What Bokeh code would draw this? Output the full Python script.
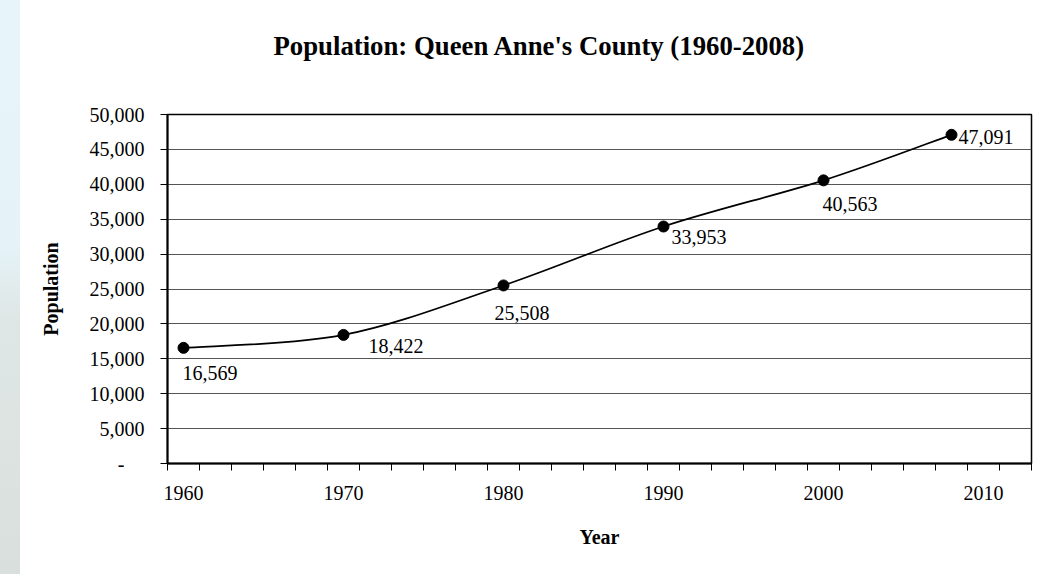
from bokeh.plotting import figure
from bokeh.models import FixedTicker, NumeralTickFormatter, Range1d, ColumnDataSource, Div, Title
from bokeh.layouts import row
from bokeh.core.properties import value
from bokeh.embed import file_html
from bokeh.resources import INLINE

# ---- data ----
years = [1960, 1970, 1980, 1990, 2000, 2008]
population = [16569, 18422, 25508, 33953, 40563, 47091]
point_labels = ["16,569", "18,422", "25,508", "33,953", "40,563", "47,091"]
x_tick_labels = [1960, 1970, 1980, 1990, 2000, 2010]
y_ticks = [0, 5000, 10000, 15000, 20000, 25000, 30000, 35000, 40000, 45000, 50000]

# ---- label placement (style, screen px) ----
label_dx = [-1, 25, -9, 8, -1, 7]
label_dy = [25, 11, 28, 10, 24, 2]

FONT = "Liberation Serif"

p = figure(width=1036, height=574, output_backend="svg", toolbar_location=None,
           x_range=Range1d(1959, 2013), y_range=Range1d(0, 50000),
           min_border_left=147, min_border_right=25, min_border_top=114,
           min_border_bottom=111, background_fill_color="white",
           border_fill_color="white")

# title (outermost) with a blank spacer between it and the frame
p.title.text = "Population: Queen Anne's County (1960-2008)"
p.title.align = "left"
p.title.offset = 106
p.title.vertical_align = "bottom"
p.title.standoff = 10
p.title.text_font = FONT
p.title.text_font_size = "26.75px"
p.title.text_font_style = "bold"
p.title.text_color = "black"

spacer = Title(text="\u00a0", text_font_size="2px", standoff=45)
p.add_layout(spacer, "above")

p.outline_line_color = "black"
p.outline_line_width = 1.5

# x axis
xa = p.xaxis[0]
xa.ticker = FixedTicker(ticks=x_tick_labels, minor_ticks=list(range(1959, 2014, 2)))
xa.major_tick_in = 0
xa.major_tick_out = 0
xa.minor_tick_in = 0
xa.minor_tick_out = 7
xa.minor_tick_line_color = "black"
xa.minor_tick_line_width = 1
xa.axis_line_color = "black"
xa.axis_line_width = 2
xa.major_label_text_font = FONT
xa.major_label_text_font_size = "20px"
xa.major_label_text_color = "black"
xa.major_label_standoff = 15
xa.axis_label = "Year"
xa.axis_label_text_font = FONT
xa.axis_label_text_font_size = "20px"
xa.axis_label_text_font_style = "bold"
xa.axis_label_text_color = "black"
xa.axis_label_standoff = 23

# y axis
ya = p.yaxis[0]
ya.ticker = FixedTicker(ticks=y_ticks)
ya.formatter = NumeralTickFormatter(format="0,0")
ya.major_label_overrides = {0: "-\u00a0\u00a0\u00a0\u00a0"}
ya.major_tick_in = 0
ya.major_tick_out = 7
ya.minor_tick_in = 0
ya.minor_tick_out = 0
ya.major_tick_line_color = "black"
ya.axis_line_color = "black"
ya.axis_line_width = 2
ya.major_label_text_font = FONT
ya.major_label_text_font_size = "20px"
ya.major_label_text_color = "black"
ya.major_label_standoff = 16
ya.axis_label = "Population"
ya.axis_label_text_font = FONT
ya.axis_label_text_font_size = "20px"
ya.axis_label_text_font_style = "bold"
ya.axis_label_text_color = "black"
ya.axis_label_standoff = 25

p.xgrid.visible = False
p.ygrid.ticker = FixedTicker(ticks=y_ticks)
p.ygrid.grid_line_color = "#555555"
p.ygrid.grid_line_width = 1

# smoothed line (Bezier segments through the data points)
n = len(years)
x0, y0, x1, y1, cx0, cy0, cx1, cy1 = [], [], [], [], [], [], [], []
for i in range(n - 1):
    xp, yp = (years[i - 1], population[i - 1]) if i > 0 else (years[i], population[i])
    xn2, yn2 = (years[i + 2], population[i + 2]) if i + 2 < n else (years[i + 1], population[i + 1])
    x0.append(years[i]); y0.append(population[i])
    x1.append(years[i + 1]); y1.append(population[i + 1])
    cx0.append(years[i] + (years[i + 1] - xp) / 6.0)
    cy0.append(population[i] + (population[i + 1] - yp) / 6.0)
    cx1.append(years[i + 1] - (xn2 - years[i]) / 6.0)
    cy1.append(population[i + 1] - (yn2 - population[i]) / 6.0)

p.bezier(x0=x0, y0=y0, x1=x1, y1=y1, cx0=cx0, cy0=cy0, cx1=cx1, cy1=cy1,
         line_color="black", line_width=1.75)

src = ColumnDataSource(dict(x=years, y=population, text=point_labels,
                            dx=label_dx, dy=label_dy))
p.scatter("x", "y", source=src, size=11, fill_color="black", line_color="black")
p.text("x", "y", text="text", x_offset="dx", y_offset="dy", source=src,
       text_font=value(FONT), text_font_size=value("20px"),
       text_baseline="middle", text_align="left", text_color="black")

strip = Div(width=20, height=574, text="", margin=0,
            styles={"background": "linear-gradient(to bottom, #e7f5fb 0%, #e5f3f8 42%, "
                                  "#dfe7e6 55%, #d9dfdc 100%)"})

layout = row(strip, p, spacing=0)

open("out.html", "w").write(file_html(layout, INLINE))
